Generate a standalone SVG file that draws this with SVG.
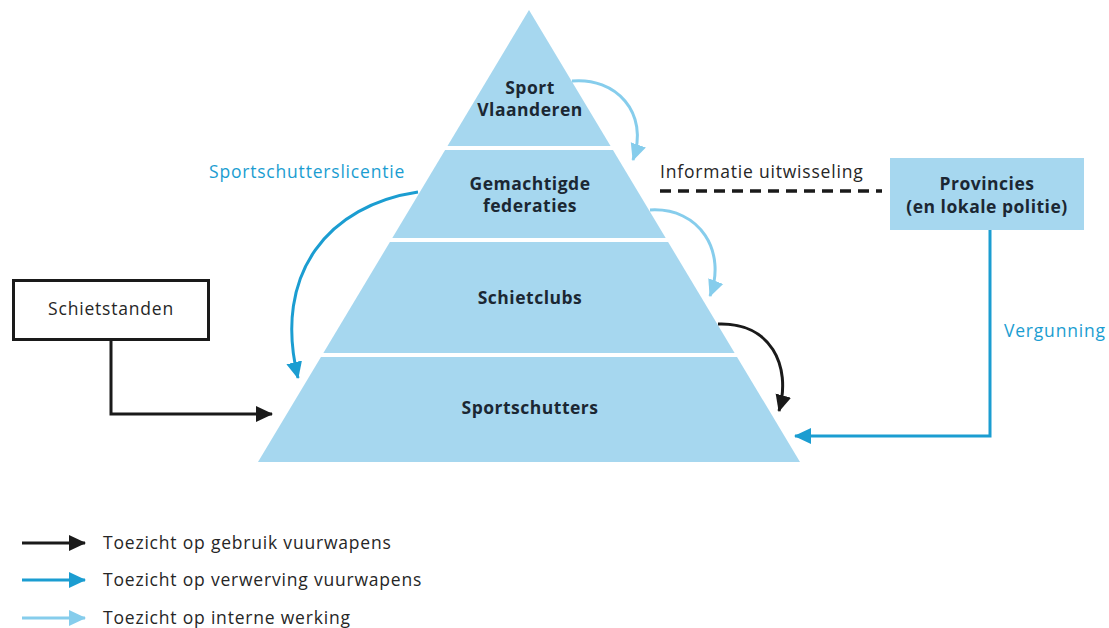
<svg xmlns="http://www.w3.org/2000/svg" width="1109" height="628" viewBox="0 0 1109 628">
<defs>
<style>
.lbl{font-family:"Open Sans","Liberation Sans",sans-serif;font-size:17.5px;font-weight:700;fill:#1b2733;text-anchor:middle;letter-spacing:0.5px}
.reg{font-family:"Open Sans","Liberation Sans",sans-serif;font-size:17.5px;fill:#262626;letter-spacing:0.8px}
.blu{font-family:"Open Sans","Liberation Sans",sans-serif;font-size:17.5px;fill:#1b9dd1;letter-spacing:0.8px}
.k{fill:none;stroke:#1a1a1a;stroke-width:3}
.m{fill:none;stroke:#1b9dd1;stroke-width:3}
.l{fill:none;stroke:#86cdec;stroke-width:3}
</style>
<marker id="ak" markerUnits="userSpaceOnUse" markerWidth="18" markerHeight="18" viewBox="0 0 18 18" refX="16" refY="9" orient="auto"><path d="M0,1 L17,9 L0,17 Z" fill="#1a1a1a"/></marker>
<marker id="am" markerUnits="userSpaceOnUse" markerWidth="18" markerHeight="18" viewBox="0 0 18 18" refX="16" refY="9" orient="auto"><path d="M0,1 L17,9 L0,17 Z" fill="#1b9dd1"/></marker>
<marker id="al" markerUnits="userSpaceOnUse" markerWidth="18" markerHeight="18" viewBox="0 0 18 18" refX="16" refY="9" orient="auto"><path d="M0,1 L17,9 L0,17 Z" fill="#86cdec"/></marker>
</defs>
<rect width="1109" height="628" fill="#ffffff"/>
<g id="pyramid">
<polygon points="529,10 800,462 258,462" fill="#a6d7ef"/>
<line x1="380" y1="148" x2="680" y2="148" stroke="#fff" stroke-width="4"/>
<line x1="330" y1="240" x2="730" y2="240" stroke="#fff" stroke-width="4"/>
<line x1="260" y1="355" x2="800" y2="355" stroke="#fff" stroke-width="4"/>
</g>
<g id="sport-vlaanderen"><text class="lbl" x="530" y="94">Sport</text><text class="lbl" x="530" y="116">Vlaanderen</text></g>
<g id="federaties"><text class="lbl" x="530" y="190">Gemachtigde</text><text class="lbl" x="530" y="212">federaties</text></g>
<g id="schietclubs"><text class="lbl" x="530" y="304">Schietclubs</text></g>
<g id="sportschutters"><text class="lbl" x="530" y="414">Sportschutters</text></g>
<g id="provincies"><rect x="890" y="158" width="194" height="72" fill="#a6d7ef"/><text class="lbl" x="987" y="190">Provincies</text><text class="lbl" x="987" y="213">(en lokale politie)</text></g>
<g id="schietstanden"><rect x="13.5" y="280.5" width="195" height="59" fill="#fff" stroke="#1a1a1a" stroke-width="3"/><text class="reg" x="111" y="315" text-anchor="middle">Schietstanden</text></g>
<g id="connectors">
<path class="l" d="M572,81 C615,77 650,112 633,160" marker-end="url(#al)"/>
<path class="l" d="M650,210 C700,207 727,252 710,296" marker-end="url(#al)"/>
<path class="k" d="M718,324 C770,322 792,365 779,411" marker-end="url(#ak)"/>
<path class="m" d="M418,192 C330,205 272,272 298,378" marker-end="url(#am)"/>
<path class="k" d="M111,340 V414 H272" marker-end="url(#ak)"/>
<path class="m" d="M990,230 V436 H795" marker-end="url(#am)"/>
<line x1="660" y1="191" x2="882" y2="191" stroke="#1a1a1a" stroke-width="3.5" stroke-dasharray="11,7"/>
</g>
<text class="reg" x="660" y="178">Informatie uitwisseling</text>
<text class="blu" x="209" y="178">Sportschutterslicentie</text>
<text class="blu" x="1004" y="337">Vergunning</text>
<g id="legend">
<path class="k" d="M22,543 H85" marker-end="url(#ak)"/>
<path class="m" d="M22,580 H85" marker-end="url(#am)"/>
<path class="l" d="M22,618 H85" marker-end="url(#al)"/>
<text class="reg" x="103" y="549">Toezicht op gebruik vuurwapens</text>
<text class="reg" x="103" y="586">Toezicht op verwerving vuurwapens</text>
<text class="reg" x="103" y="624">Toezicht op interne werking</text>
</g>
</svg>
